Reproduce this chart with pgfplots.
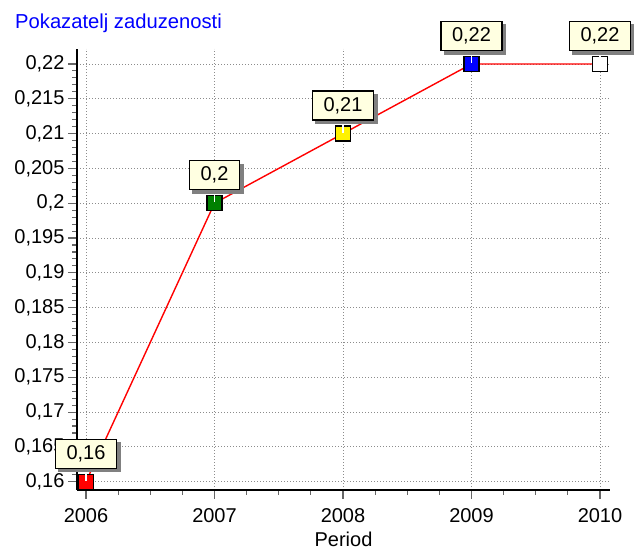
\documentclass[border=0pt]{standalone}
\usepackage{fontspec}
\setmainfont{Liberation Sans}
\usepackage{pgfplots}
\pgfplotsset{compat=1.18}
\definecolor{labfill}{RGB}{255,255,225}
\definecolor{titleblue}{RGB}{0,0,255}
\definecolor{mkgreen}{RGB}{0,128,0}
\begin{document}
\begin{tikzpicture}[x=1bp,y=1bp]
\useasboundingbox (0,0) rectangle (634,550);
\node[anchor=base west, text=titleblue, font=\fontsize{20.2bp}{24bp}\selectfont, inner sep=0] at (15,521) {Pokazatelj zaduzenosti};
\begin{axis}[
  at={(77bp,60bp)}, anchor=south west,
  scale only axis, width=533bp, height=441bp,
  xmin=2005.93, xmax=2010.078, ymin=0.15881, ymax=0.222155,
  axis x line*=bottom, axis y line*=left,
  axis line style={line width=2.8bp, -},
  /pgf/number format/assume math mode=true,
  xtick={2006,2007,2008,2009,2010},
  xticklabels={2006,2007,2008,2009,2010},
  ytick={0.16,0.165,0.17,0.175,0.18,0.185,0.19,0.195,0.2,0.205,0.21,0.215,0.22},
  yticklabel={\pgfmathprintnumber[use comma,fixed,precision=3]{\tick}},
  minor x tick num=3, minor y tick num=4,
  tick align=outside,
  major tick length=9bp, minor tick length=5bp,
  tick style={color=black!60, line width=1.1bp},
  grid=major,
  grid style={black!45, line width=0.9bp, dash pattern=on 1bp off 2bp},
  tick label style={font=\fontsize{20bp}{24bp}\selectfont},
  xticklabel style={yshift=-6bp},
  xlabel={Period},
  every axis x label/.style={at={(axis description cs:0.5,0)}, anchor=base, yshift=-57bp, inner sep=0pt, font=\fontsize{20bp}{24bp}\selectfont},
  clip=false,
]
\addplot[red, line width=1.4bp, mark=none] coordinates {(2006,0.16)(2007,0.2)(2008,0.21)(2009,0.22)(2010,0.22)};
\addplot[only marks, mark=square*, mark size=7.5bp, mark options={draw=black, line width=1.4bp, fill=red}] coordinates {(2006,0.16)};
\addplot[only marks, mark=square*, mark size=7.5bp, mark options={draw=black, line width=1.4bp, fill=mkgreen}] coordinates {(2007,0.2)};
\addplot[only marks, mark=square*, mark size=7.5bp, mark options={draw=black, line width=1.4bp, fill=yellow}] coordinates {(2008,0.21)};
\addplot[only marks, mark=square*, mark size=7.5bp, mark options={draw=black, line width=1.4bp, fill=blue}] coordinates {(2009,0.22)};
\addplot[only marks, mark=square*, mark size=7.5bp, mark options={draw=black, line width=1.4bp, fill=white}] coordinates {(2010,0.22)};
\addplot[only marks, mark=|, mark size=6.5bp, mark options={draw=white, line width=1.6bp, yshift=7.5bp}] coordinates {(2006,0.16)(2007,0.2)(2008,0.21)(2009,0.22)(2010,0.22)};
% shadows of the labels
\addplot[only marks, mark=none, point meta=y,
  nodes near coords={\phantom{\pgfmathprintnumber[use comma,fixed,precision=2]{\pgfplotspointmeta}}},
  every node near coord/.style={draw=black!50, fill=black!50, line width=1.4bp, inner xsep=11bp, minimum height=29bp, inner ysep=0pt, anchor=center, xshift=3.5bp, yshift=24.5bp, font=\fontsize{20bp}{24bp}\selectfont}]
  coordinates {(2006,0.16)(2007,0.2)(2008,0.21)(2009,0.22)(2010,0.22)};
% labels
\addplot[only marks, mark=none, point meta=y,
  nodes near coords={\pgfmathprintnumber[use comma,fixed,precision=2]{\pgfplotspointmeta}},
  every node near coord/.style={draw=black, fill=labfill, text=black, line width=1.4bp, inner xsep=11bp, minimum height=29bp, inner ysep=0pt, anchor=center, yshift=28bp, font=\fontsize{20bp}{24bp}\selectfont}]
  coordinates {(2006,0.16)(2007,0.2)(2008,0.21)(2009,0.22)(2010,0.22)};
\end{axis}
\end{tikzpicture}
\end{document}
